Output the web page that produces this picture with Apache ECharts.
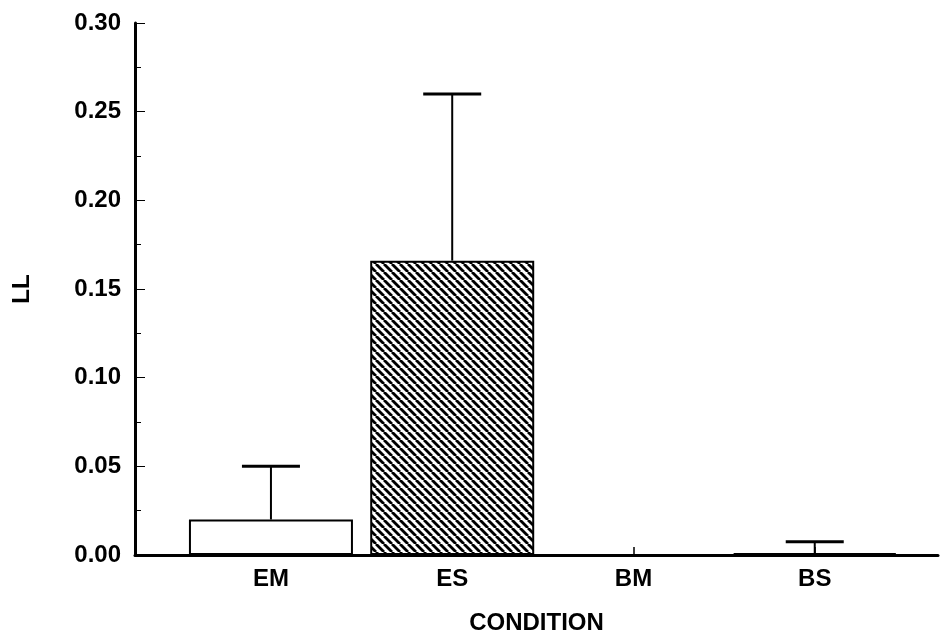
<!DOCTYPE html>
<html>
<head>
<meta charset="utf-8">
<script src="https://cdn.jsdelivr.net/npm/echarts@6/dist/echarts.min.js"></script>
<style>
html, body { margin: 0; padding: 0; background: #fff; }
#chart { width: 941px; height: 633px; }
</style>
</head>
<body>
<div id="chart"></div>
<script>
// conditions and values
var conditions = ['EM', 'ES', 'BM', 'BS'];
var positions = [1, 2, 3, 4];
var means = [0.020, 0.166, 0.000, 0.001];
var upper = [0.050, 0.260, null, 0.0075];
var yTicks = [0, 0.05, 0.10, 0.15, 0.20, 0.25, 0.30];

var FONT = 'Liberation Sans';

// diagonal hatch for the ES bar
function hatch() {
    var s = 8;
    var c = document.createElement('canvas');
    c.width = s; c.height = s;
    var g = c.getContext('2d');
    g.fillStyle = '#fff';
    g.fillRect(0, 0, s, s);
    g.strokeStyle = '#000';
    g.lineWidth = 2.8;
    [-s, 0, s].forEach(function (x0) {
        g.beginPath();
        g.moveTo(x0, 0);
        g.lineTo(x0 + s, s);
        g.stroke();
    });
    return c;
}

var barData = positions.map(function (p, i) {
    var item = { value: [p, means[i]] };
    if (conditions[i] === 'ES') {
        item.itemStyle = { color: { image: hatch(), repeat: 'repeat' } };
    }
    return item;
});

var errData = [];
positions.forEach(function (p, i) {
    if (upper[i] != null) errData.push([p, means[i], upper[i]]);
});

var chart = echarts.init(document.getElementById('chart'));
chart.setOption({
    animation: false,
    backgroundColor: '#fff',
    grid: { left: 135, top: 23, width: 803, height: 532, containLabel: false, outerBoundsMode: 'none' },
    xAxis: {
        type: 'value',
        min: 0.25,
        max: 4.68,
        name: 'CONDITION',
        nameLocation: 'middle',
        nameGap: 56,
        nameTextStyle: { fontFamily: FONT, fontWeight: 'bold', fontSize: 24, color: '#000' },
        splitLine: { show: false },
        axisLine: { show: true, onZero: false, lineStyle: { color: '#000', width: 3 } },
        axisTick: { show: true, inside: true, length: 8, customValues: positions,
                    lineStyle: { color: '#000', width: 1.5 } },
        axisLabel: {
            customValues: positions,
            margin: 12,
            fontFamily: FONT, fontWeight: 'bold', fontSize: 24, color: '#000',
            formatter: function (v) { return conditions[Math.round(v) - 1] || ''; }
        }
    },
    yAxis: {
        type: 'value',
        min: 0,
        max: 0.30,
        interval: 0.05,
        name: 'LL',
        nameLocation: 'middle',
        nameGap: 101,
        nameTextStyle: { fontFamily: FONT, fontWeight: 'bold', fontSize: 24, color: '#000' },
        splitLine: { show: false },
        axisLine: { show: true, lineStyle: { color: '#000', width: 3 } },
        axisTick: { show: true, inside: true, length: 10, lineStyle: { color: '#000', width: 1 } },
        minorTick: { show: true, splitNumber: 2, length: 6, lineStyle: { color: '#000', width: 1 } },
        axisLabel: {
            margin: 14,
            fontFamily: FONT, fontWeight: 'bold', fontSize: 24, color: '#000',
            customValues: yTicks,
            formatter: function (v) { return v.toFixed(2); }
        }
    },
    series: [
        {
            type: 'bar',
            data: barData,
            barWidth: 164,
            itemStyle: { color: '#fff', borderColor: '#000', borderWidth: 2 },
            z: 2
        },
        {
            type: 'custom',
            data: errData,
            z: 3,
            renderItem: function (params, api) {
                var base = api.coord([api.value(0), api.value(1)]);
                var top = api.coord([api.value(0), api.value(2)]);
                var half = 29;
                return {
                    type: 'group',
                    children: [
                        { type: 'line', shape: { x1: base[0], y1: base[1], x2: top[0], y2: top[1] },
                          style: { stroke: '#000', lineWidth: 2 } },
                        { type: 'line', shape: { x1: top[0] - half, y1: top[1], x2: top[0] + half, y2: top[1] },
                          style: { stroke: '#000', lineWidth: 3 } }
                    ]
                };
            }
        }
    ]
});
</script>
</body>
</html>
